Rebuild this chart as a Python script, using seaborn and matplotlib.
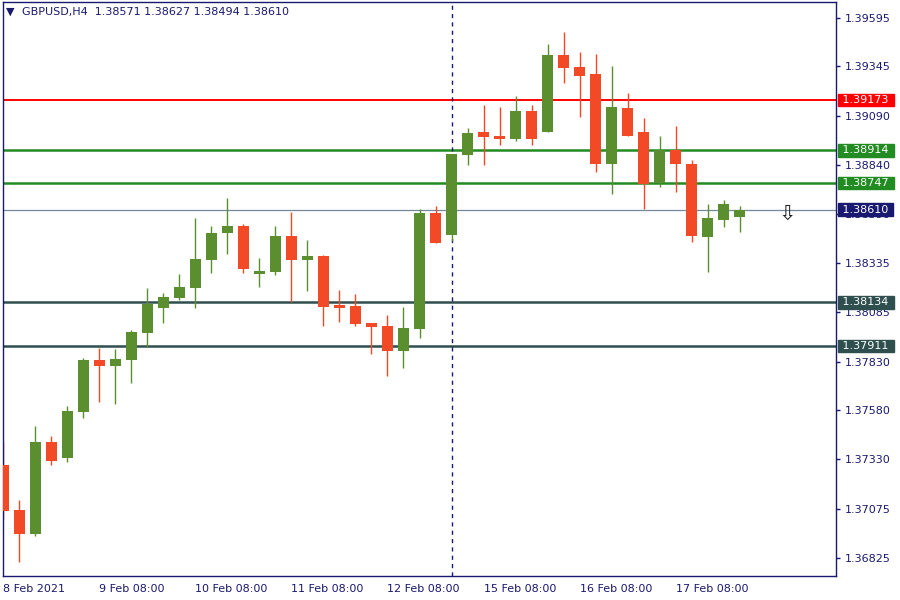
import seaborn as sns
import matplotlib.pyplot as plt
import matplotlib.transforms as mtransforms
import pandas as pd

# GBPUSD H4 candles
opens = [1.37300, 1.37070, 1.36948, 1.37418, 1.37338, 1.37574, 1.37839, 1.37810,
         1.37841, 1.37979, 1.38107, 1.38159, 1.38210, 1.38354, 1.38492, 1.38526,
         1.38282, 1.38292, 1.38475, 1.38354, 1.38373, 1.38121, 1.38116, 1.38029,
         1.38013, 1.37887, 1.38000, 1.38593, 1.38482, 1.38892, 1.39009, 1.38988,
         1.38974, 1.39116, 1.39010, 1.39404, 1.39342, 1.39306, 1.38846, 1.39132,
         1.39009, 1.38749, 1.38916, 1.38845, 1.38472, 1.38559, 1.38571]
highs = [1.37418, 1.37121, 1.37500, 1.37449, 1.37603, 1.37849, 1.37901, 1.37895,
         1.37993, 1.38208, 1.38183, 1.38280, 1.38568, 1.38526, 1.38670, 1.38537,
         1.38362, 1.38526, 1.38598, 1.38455, 1.38378, 1.38198, 1.38178, 1.38029,
         1.38070, 1.38111, 1.38614, 1.38629, 1.38898, 1.39029, 1.39147, 1.39137,
         1.39193, 1.39147, 1.39460, 1.39522, 1.39419, 1.39409, 1.39347, 1.39209,
         1.39081, 1.38988, 1.39039, 1.38865, 1.38639, 1.38660, 1.38627]
lows = [1.37025, 1.36804, 1.36938, 1.37302, 1.37317, 1.37543, 1.37624, 1.37613,
        1.37723, 1.37907, 1.38030, 1.38148, 1.38107, 1.38287, 1.38384, 1.38287,
        1.38215, 1.38277, 1.38138, 1.38195, 1.38015, 1.38036, 1.38015, 1.37871,
        1.37758, 1.37799, 1.37953, 1.38438, 1.38451, 1.38841, 1.38841, 1.38944,
        1.38964, 1.38944, 1.39008, 1.39262, 1.39087, 1.38805, 1.38692, 1.38988,
        1.38615, 1.38728, 1.38702, 1.38446, 1.38292, 1.38523, 1.38494]
closes = [1.37066, 1.36948, 1.37418, 1.37322, 1.37577, 1.37839, 1.37810, 1.37844,
          1.37983, 1.38126, 1.38162, 1.38214, 1.38357, 1.38491, 1.38526, 1.38307,
          1.38296, 1.38475, 1.38354, 1.38373, 1.38112, 1.38107, 1.38025, 1.38010,
          1.37887, 1.38003, 1.38593, 1.38441, 1.38896, 1.39004, 1.38985, 1.38974,
          1.39116, 1.38974, 1.39404, 1.39339, 1.39298, 1.38846, 1.39137, 1.38990,
          1.38743, 1.38916, 1.38846, 1.38477, 1.38568, 1.38639, 1.38610]

# horizontal levels drawn on the chart
level_prices = [1.39173, 1.38914, 1.38747, 1.38610, 1.38134, 1.37911]
level_colors = ['#ff0000', '#228b22', '#228b22', '#778899', '#2f4f4f', '#2f4f4f']
label_colors = ['#ff0000', '#228b22', '#228b22', '#191970', '#2f4f4f', '#2f4f4f']
level_widths = [1.4, 1.8, 1.8, 0.9, 1.8, 1.8]

ytick_values = [1.39595, 1.39345, 1.39090, 1.38840, 1.38590, 1.38335,
                1.38085, 1.37830, 1.37580, 1.37330, 1.37075, 1.36825]
xtick_bars = [0, 6, 12, 18, 24, 30, 36, 42]
xtick_labels = ['8 Feb 2021', '9 Feb 08:00', '10 Feb 08:00', '11 Feb 08:00',
                '12 Feb 08:00', '15 Feb 08:00', '16 Feb 08:00', '17 Feb 08:00']
separator_bar = 28
signal_bar = 49
signal_price = 1.38639

navy = '#191970'
bull = '#5b8e2f'
bear = '#f24a26'

df = pd.DataFrame({'open': opens, 'high': highs, 'low': lows, 'close': closes})
df['bar'] = range(len(df))
df['color'] = [bull if c >= o else bear for o, c in zip(df['open'], df['close'])]
df['bottom'] = df[['open', 'close']].min(axis=1)
df['body'] = (df['close'] - df['open']).abs().clip(lower=0.00004)

sns.set_style('white')
plt.rcParams['font.family'] = ['DejaVu Sans']

fig = plt.figure(figsize=(9, 6), dpi=100)
ax = fig.add_axes([3 / 900, 24 / 600, 833 / 900, 574 / 600])

# levels
for p, c, w in zip(level_prices, level_colors, level_widths):
    ax.axhline(p, color=c, lw=w, zorder=1)
ax.axvline(separator_bar, color=navy, lw=1, ls=(0, (3, 3)), zorder=1)

# candles
ax.vlines(df['bar'], df['low'], df['high'], colors=df['color'], lw=1, zorder=2)
ax.bar(df['bar'], df['body'], bottom=df['bottom'], width=0.69,
       color=df['color'], linewidth=0, zorder=3)

ax.text(signal_bar, signal_price, '\u21e9', ha='center', va='top',
        fontsize=15, color='#222222', zorder=4)

ax.set_xlim(-0.03, 52.03)
ax.set_ylim(1.367309, 1.396755)

ax.yaxis.tick_right()
ax.set_yticks(ytick_values, [f'{v:.5f}' for v in ytick_values])
ax.set_xticks(xtick_bars, xtick_labels, ha='left')
ax.tick_params(axis='both', direction='out', length=3, width=1, color=navy,
               labelcolor=navy, labelsize=8)
ax.tick_params(axis='y', pad=3)
ax.tick_params(axis='x', length=4, pad=2)
for s in ax.spines.values():
    s.set_color(navy)
    s.set_linewidth(1)

# price labels on the right
trans = mtransforms.blended_transform_factory(ax.transAxes, ax.transData)
for p, c in zip(level_prices, label_colors):
    ax.text(1.004, p, f' {p:.5f} ', transform=trans, ha='left', va='center',
            fontsize=8, color='white', clip_on=False, zorder=6,
            bbox=dict(boxstyle='square,pad=0.12', facecolor=c, edgecolor=c))

# header
fig.text(6 / 900, 1 - 12 / 600, '\u25bc', fontsize=8, color=navy, va='center')
fig.text(22 / 900, 1 - 12 / 600,
         f'GBPUSD,H4  {opens[-1]:.5f} {highs[-1]:.5f} {lows[-1]:.5f} {closes[-1]:.5f}',
         fontsize=8, color=navy, va='center')

fig.savefig('out.png', dpi=100)
